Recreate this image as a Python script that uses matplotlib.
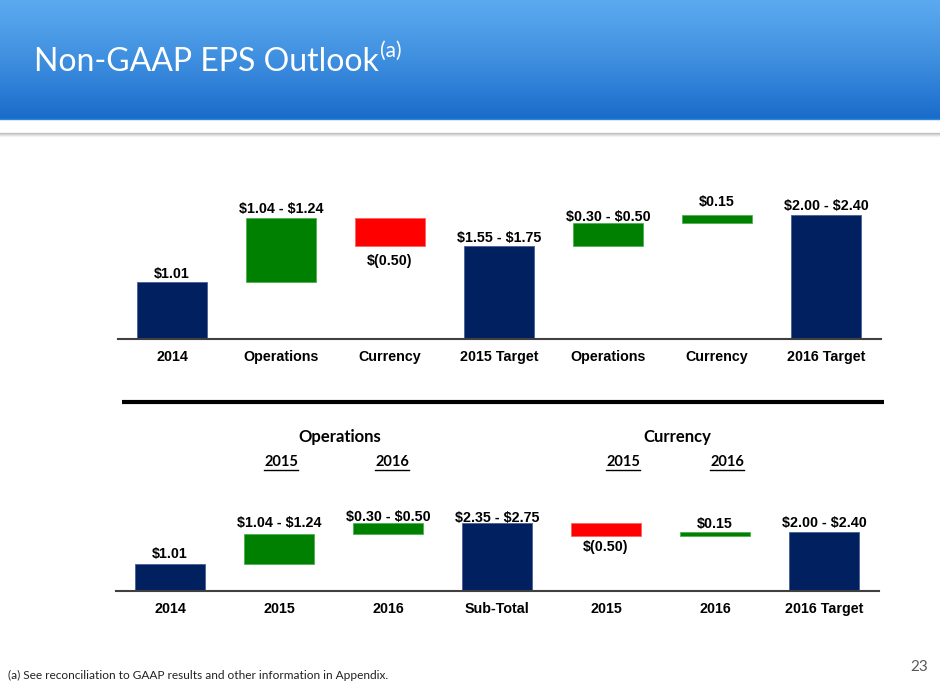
import numpy as np
import matplotlib
matplotlib.use('Agg')
import matplotlib.pyplot as plt
from matplotlib.colors import LinearSegmentedColormap

W, H = 940, 686

NAVY = '#002060'
GREEN = '#008000'
RED = '#FF0000'
BAR_FONT = 'Liberation Sans'
SLIDE_FONT = 'Lato'

# upper waterfall (bar heights use the midpoint of each range)
top_cats = ['2014', 'Operations', 'Currency', '2015 Target', 'Operations', 'Currency', '2016 Target']
top_vals = [1.01, 1.14, -0.50, 1.65, 0.40, 0.15, 2.20]
top_total = [True, False, False, True, False, False, True]
top_text = ['$1.01', '$1.04 - $1.24', '$(0.50)', '$1.55 - $1.75', '$0.30 - $0.50', '$0.15', '$2.00 - $2.40']

# lower waterfall
bot_cats = ['2014', '2015', '2016', 'Sub-Total', '2015', '2016', '2016 Target']
bot_vals = [1.01, 1.14, 0.40, 2.55, -0.50, 0.15, 2.20]
bot_total = [True, False, False, True, False, False, True]
bot_text = ['$1.01', '$1.04 - $1.24', '$0.30 - $0.50', '$2.35 - $2.75', '$(0.50)', '$0.15', '$2.00 - $2.40']

# label offsets in pixels (negative = below the bar)
top_offs = [8, 9, -15, 8, 6, 13, 9]
bot_offs = [10, 11, 6, 5, -11, 8, 9]


def waterfall(ax, cats, vals, totals, texts, offs):
    run = 0
    for i, (v, t) in enumerate(zip(vals, totals)):
        if t:
            bottom, height, color, edge = 0, v, NAVY, '#4a5f95'
            run = v
        else:
            bottom = run if v >= 0 else run + v
            height = abs(v)
            color = GREEN if v >= 0 else RED
            edge = '#4fb04f' if v >= 0 else '#ff6060'
            run += v
        ax.bar(i, height, bottom=bottom, width=0.65, color=color,
               edgecolor=edge, linewidth=0.6)
        anchor = bottom + height if offs[i] > 0 else bottom
        ax.annotate(texts[i], (i, anchor), xytext=(0, offs[i]), textcoords='offset pixels',
                    ha='center', va='center', fontsize=10.3, fontweight='bold',
                    family=BAR_FONT, color='black', parse_math=False)
    ax.set_xlim(-0.5, len(cats) - 0.5)
    ax.set_xticks(np.arange(len(cats)), cats)
    ax.tick_params(axis='x', length=0, pad=8)
    for lab in ax.get_xticklabels():
        lab.set_fontsize(10.3)
        lab.set_fontweight('bold')
        lab.set_family(BAR_FONT)
    ax.set_yticks([])
    for s in ['top', 'left', 'right']:
        ax.spines[s].set_visible(False)
    ax.spines['bottom'].set_color('#404040')
    ax.spines['bottom'].set_linewidth(1.5)
    ax.set_facecolor('none')


fig = plt.figure(figsize=(W / 100, H / 100), dpi=100)

# slide background in pixel coordinates
bg = fig.add_axes([0, 0, 1, 1], zorder=-1)
bg.set_xlim(0, W)
bg.set_ylim(H, 0)
bg.axis('off')

cmap = LinearSegmentedColormap.from_list('hdr', ['#5BAAF0', '#3F8FE0', '#1A6CCB'])
grad = np.linspace(0, 1, 120)[:, None]
bg.imshow(grad, extent=[0, W, 119, 0], aspect='auto', cmap=cmap, zorder=0)
bg.plot([0, W], [118.5, 118.5], color='#2E86E0', lw=1, zorder=1)
for k, a in enumerate([0.55, 0.35, 0.18, 0.08]):
    bg.plot([0, W], [132.5 + k, 132.5 + k], color='#999999', lw=1, alpha=a)

title = bg.text(34, 62, 'Non-GAAP EPS Outlook', color='white', fontsize=23,
                family=SLIDE_FONT, va='center', ha='left')
fig.canvas.draw()
r = fig.canvas.get_renderer()
ext = title.get_window_extent(r)
bg.text(ext.x1 + 1, 51, '(a)', color='white', fontsize=15, family=SLIDE_FONT,
        va='center', ha='left')

# separator line
bg.plot([122, 884], [402, 402], color='black', lw=3, solid_capstyle='butt')

# section headers for lower chart
for txt, x in [('Operations', 340), ('Currency', 677)]:
    bg.text(x, 437, txt, fontsize=12, fontweight='bold', family=SLIDE_FONT,
            ha='center', va='center', color='black')
for txt, x in [('2015', 281), ('2016', 392), ('2015', 623), ('2016', 727)]:
    t = bg.text(x, 462, txt, fontsize=10.5, fontweight='bold', family=SLIDE_FONT,
                ha='center', va='center', color='black')
    e = t.get_window_extent(r)
    half = e.width / 2
    bg.plot([x - half, x + half], [470, 470], color='black', lw=1)

# footnote and page number
bg.text(8, 675, '(a) See reconciliation to GAAP results and other information in Appendix.',
        fontsize=8.6, family=SLIDE_FONT, color='#222222', va='center', ha='left')
bg.text(919, 667, '23', fontsize=11, family=SLIDE_FONT, color='#595959',
        va='center', ha='center')

# upper chart: baseline y=339 px, 56.4 px per dollar
ax1 = fig.add_axes([117.5 / W, 1 - 339 / H, 763 / W, 149 / H])
ax1.set_ylim(0, 149 / 56.4)
waterfall(ax1, top_cats, top_vals, top_total, top_text, top_offs)

# lower chart: baseline y=591 px, 26.7 px per dollar
ax2 = fig.add_axes([115.5 / W, 1 - 591 / H, 763 / W, 91 / H])
ax2.set_ylim(0, 91 / 26.7)
waterfall(ax2, bot_cats, bot_vals, bot_total, bot_text, bot_offs)

fig.savefig('out.png', dpi=100)
